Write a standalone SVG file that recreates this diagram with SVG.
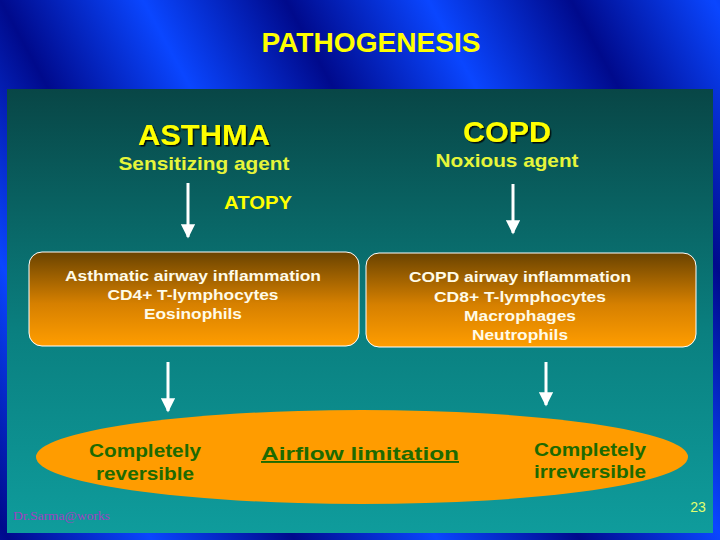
<svg xmlns="http://www.w3.org/2000/svg" width="720" height="540" viewBox="0 0 720 540">
<defs>
<linearGradient id="frame" gradientUnits="userSpaceOnUse" x1="0" y1="0" x2="110" y2="-60" spreadMethod="reflect">
<stop offset="0" stop-color="#000a8c"/>
<stop offset="1" stop-color="#0a46ff"/>
</linearGradient>
<linearGradient id="panel" x1="0" y1="0" x2="0" y2="1">
<stop offset="0" stop-color="#084646"/>
<stop offset="0.55" stop-color="#0a8080"/>
<stop offset="1" stop-color="#0f9c9c"/>
</linearGradient>
<linearGradient id="box" x1="0" y1="0" x2="0" y2="1">
<stop offset="0" stop-color="#6a4300"/>
<stop offset="0.55" stop-color="#d68000"/>
<stop offset="1" stop-color="#ff9d00"/>
</linearGradient>
<filter id="shadow" x="-10%" y="-10%" width="130%" height="140%">
<feDropShadow dx="1.5" dy="1.5" stdDeviation="0.3" flood-color="#000000" flood-opacity="0.85"/>
</filter>
<marker id="arrow" viewBox="0 0 10 10" refX="9" refY="5" markerWidth="5" markerHeight="4.7" orient="auto" markerUnits="strokeWidth">
<path d="M0,0 L10,5 L0,10 Z" fill="#ffffff"/>
</marker>
</defs>
<style>
text{font-family:"Liberation Sans",Arial,sans-serif;font-weight:bold;text-anchor:middle}
.head{fill:#ffff00}
.sub{fill:#e6f53a;font-size:19px}
.boxt{fill:#fffbe8;font-size:15px}
.ell{fill:#1d6a00;font-size:19px}
.box{fill:url(#box);stroke:#ffffff;stroke-width:1}
.conn{stroke:#ffffff;stroke-width:3;fill:none;marker-end:url(#arrow)}
</style>
<rect x="0" y="0" width="720" height="540" fill="url(#frame)"/>
<rect x="7" y="89" width="706" height="444" fill="url(#panel)"/>
<text x="371" y="52" class="head" font-size="27" textLength="219" lengthAdjust="spacingAndGlyphs">PATHOGENESIS</text>

<g id="asthma">
<text x="204" y="145" class="head" font-size="30" filter="url(#shadow)" textLength="132" lengthAdjust="spacingAndGlyphs">ASTHMA</text>
<text x="204" y="170" class="sub" textLength="171" lengthAdjust="spacingAndGlyphs">Sensitizing agent</text>
</g>
<g id="copd">
<text x="507" y="142" class="head" font-size="30" filter="url(#shadow)" textLength="88" lengthAdjust="spacingAndGlyphs">COPD</text>
<text x="507" y="167" class="sub" textLength="143" lengthAdjust="spacingAndGlyphs">Noxious agent</text>
</g>
<g id="atopy">
<text x="258" y="209" class="head" font-size="19" fill="#f0f530" textLength="68" lengthAdjust="spacingAndGlyphs">ATOPY</text>
</g>

<g id="asthma-inflammation">
<rect x="29" y="252" width="330" height="94" rx="13" class="box"/>
<text x="193" y="281" class="boxt" textLength="256" lengthAdjust="spacingAndGlyphs">Asthmatic airway inflammation</text>
<text x="193" y="300" class="boxt" textLength="171" lengthAdjust="spacingAndGlyphs">CD4+ T-lymphocytes</text>
<text x="193" y="319" class="boxt" textLength="98" lengthAdjust="spacingAndGlyphs">Eosinophils</text>
</g>
<g id="copd-inflammation">
<rect x="366" y="253" width="330" height="94" rx="13" class="box"/>
<text x="520" y="282" class="boxt" textLength="222" lengthAdjust="spacingAndGlyphs">COPD airway inflammation</text>
<text x="520" y="302" class="boxt" textLength="172" lengthAdjust="spacingAndGlyphs">CD8+ T-lymphocytes</text>
<text x="520" y="321" class="boxt" textLength="112" lengthAdjust="spacingAndGlyphs">Macrophages</text>
<text x="520" y="340" class="boxt" textLength="96" lengthAdjust="spacingAndGlyphs">Neutrophils</text>
</g>

<g id="airflow">
<ellipse cx="362" cy="457" rx="326" ry="47" fill="#ff9c00"/>
<text x="145" y="457" class="ell" textLength="112" lengthAdjust="spacingAndGlyphs">Completely</text>
<text x="145" y="480" class="ell" textLength="98" lengthAdjust="spacingAndGlyphs">reversible</text>
<text x="360" y="460" class="ell" font-size="21" text-decoration="underline" textLength="198" lengthAdjust="spacingAndGlyphs">Airflow limitation</text>
<text x="590" y="456" class="ell" textLength="112" lengthAdjust="spacingAndGlyphs">Completely</text>
<text x="590" y="478" class="ell" textLength="112" lengthAdjust="spacingAndGlyphs">irreversible</text>
</g>

<g id="connectors">
<line x1="188" y1="183" x2="188" y2="237" class="conn"/>
<line x1="513" y1="184" x2="513" y2="233" class="conn"/>
<line x1="168" y1="362" x2="168" y2="411" class="conn"/>
<line x1="546" y1="362" x2="546" y2="405" class="conn"/>
</g>

<text x="13" y="520" style="font-family:'Liberation Serif','Times New Roman',serif;font-weight:normal;text-anchor:start" font-size="13.5" fill="#a040c0">Dr.Sarma@works</text>
<text x="698" y="512" style="font-weight:normal" font-size="14" fill="#e0ff70">23</text>
</svg>
